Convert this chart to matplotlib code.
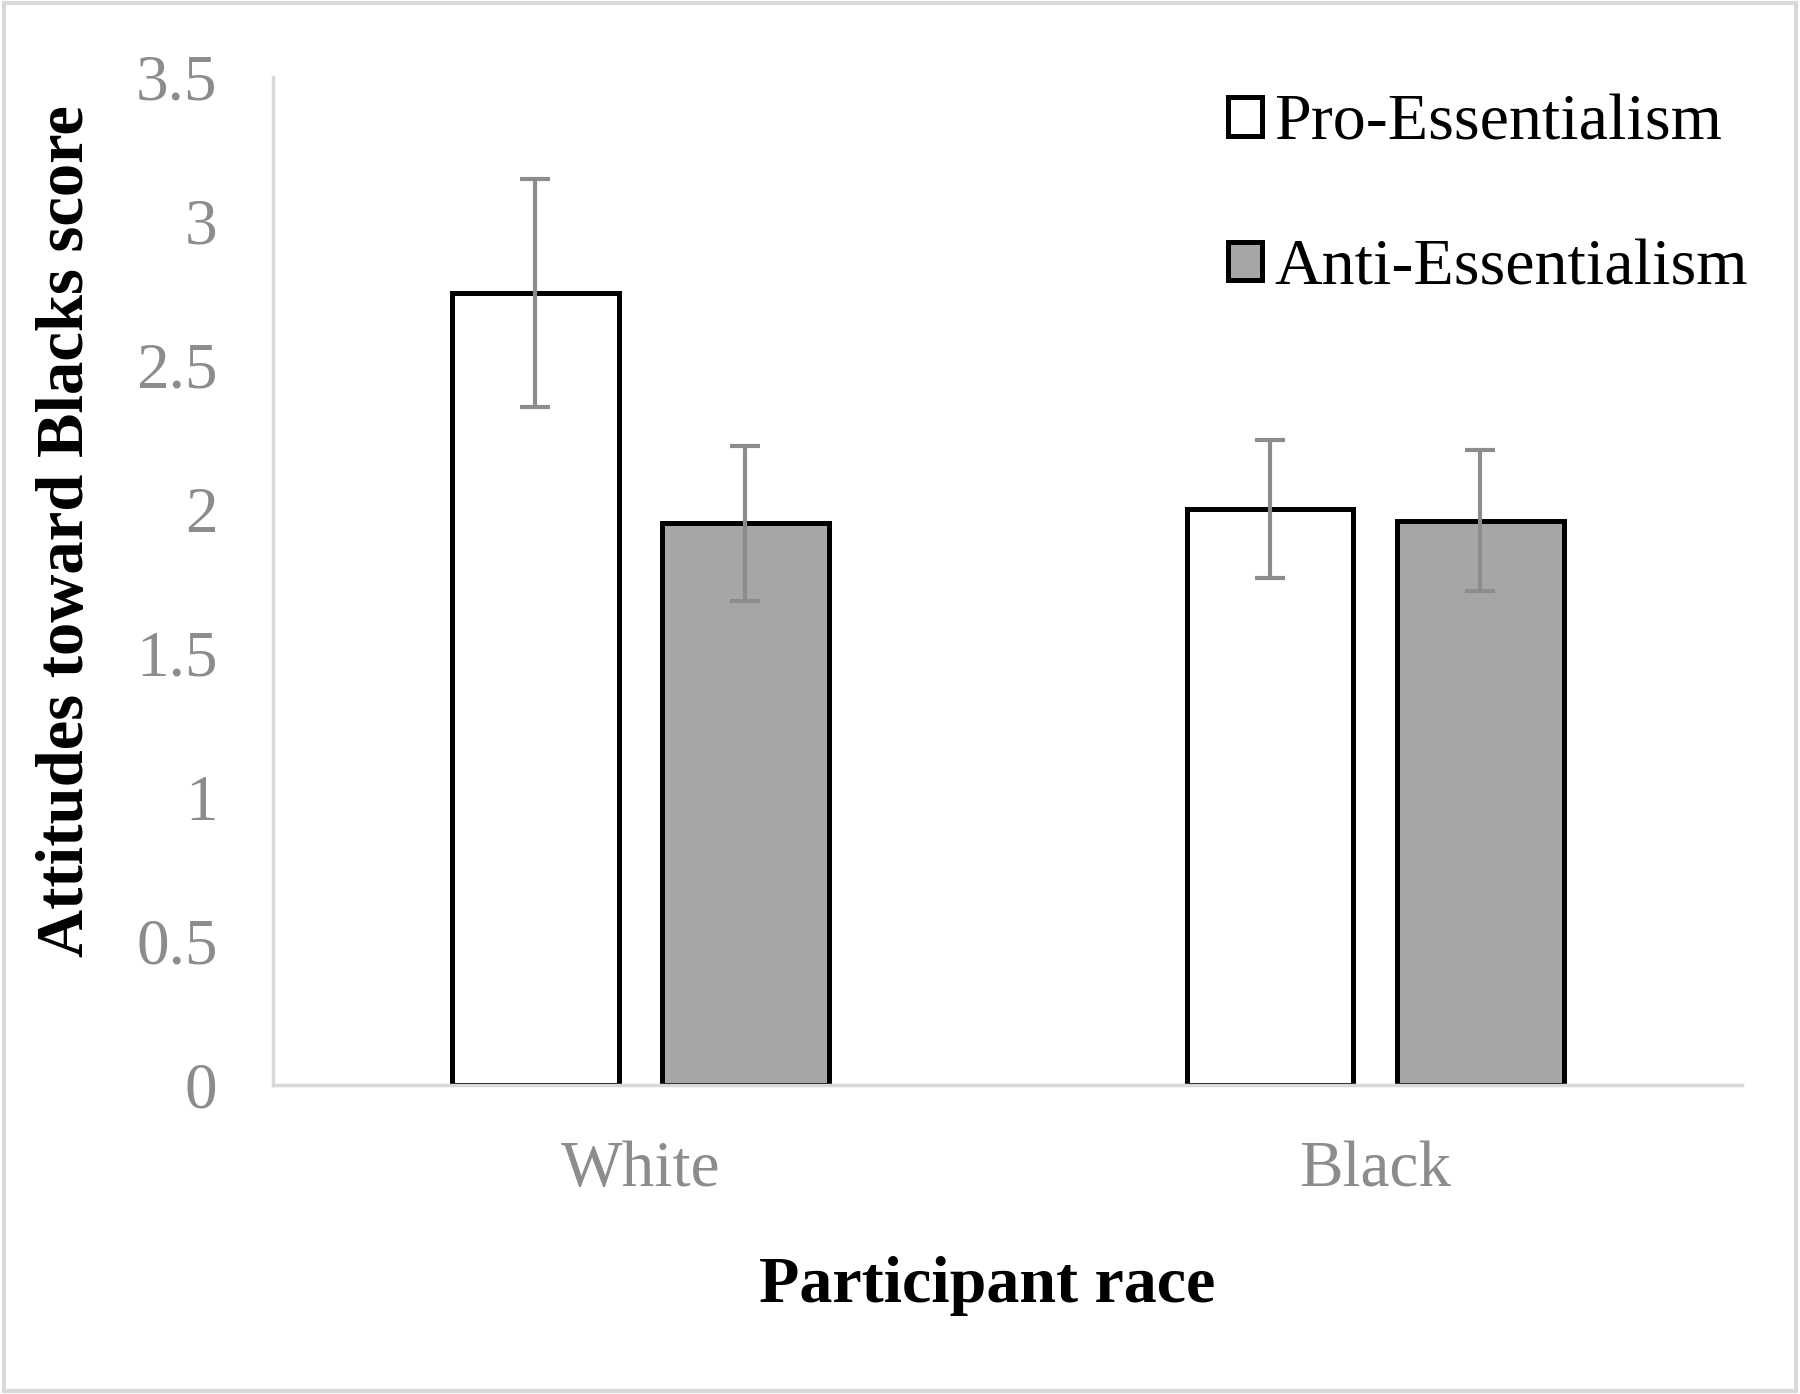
import matplotlib
matplotlib.use("Agg")
import matplotlib.pyplot as plt
import numpy as np
from matplotlib.patches import Patch, Rectangle

plt.rcParams['font.family'] = ['Liberation Serif', 'DejaVu Serif']

races = ["White", "Black"]
pro_vals = [2.75, 2.0]
anti_vals = [1.95, 1.96]
pro_err = [0.395, 0.24]
anti_err = [0.27, 0.245]

x = np.arange(len(races))
w = 0.227
off = 0.143

fig = plt.figure(figsize=(18, 13.94), dpi=100)
ax = fig.add_axes([0.1517, 0.2217, 0.8163, 0.723])

ax.bar(x - off, pro_vals, width=w, color="white", edgecolor="black", linewidth=3.6, zorder=2)
ax.bar(x + off, anti_vals, width=w, color="#a6a6a6", edgecolor="black", linewidth=3.6, zorder=2)
ax.errorbar(x - off, pro_vals, yerr=pro_err, fmt="none", ecolor="#8c8c8c", elinewidth=3, capsize=11, capthick=3, zorder=3)
ax.errorbar(x + off, anti_vals, yerr=anti_err, fmt="none", ecolor="#8c8c8c", elinewidth=3, capsize=11, capthick=3, zorder=3)

ax.set_xlim(-0.5, 1.5)
ax.set_ylim(0, 3.5)
ax.set_yticks(np.arange(0, 3.51, 0.5))
ax.set_yticklabels(["0", "0.5", "1", "1.5", "2", "2.5", "3", "3.5"])
ax.set_xticks(x)
ax.set_xticklabels(races)
ax.tick_params(axis="both", length=0, labelsize=47, labelcolor="#8c8c8c")
ax.tick_params(axis="x", pad=40)
ax.tick_params(axis="y", pad=40)

for s in ["top", "right"]:
    ax.spines[s].set_visible(False)
for s in ["left", "bottom"]:
    ax.spines[s].set_color("#d9d9d9")
    ax.spines[s].set_linewidth(2.5)

ax.set_xlabel("Participant race", fontsize=47.5, fontweight="bold", labelpad=40)
ax.xaxis.label.set_x(0.486)
ax.set_ylabel("Attitudes toward Blacks score", fontsize=48, fontweight="bold")
ax.yaxis.set_label_coords(-0.120, 0.55)

handles = [Patch(facecolor="white", edgecolor="black", linewidth=3.6),
           Patch(facecolor="#a6a6a6", edgecolor="black", linewidth=3.6)]
ax.legend(handles, ["Pro-Essentialism", "Anti-Essentialism"], loc="upper left",
          bbox_to_anchor=(0.664, 0.956), bbox_transform=fig.transFigure,
          frameon=False, fontsize=47.5, handlelength=0.52, handleheight=0.52,
          handletextpad=0.18, labelspacing=1.29, borderpad=0)

fig.patches.append(Rectangle((0.002, 0.002), 0.996, 0.996, transform=fig.transFigure,
                             fill=False, edgecolor="#d9d9d9", linewidth=3))

fig.savefig("out.png", dpi=100)
